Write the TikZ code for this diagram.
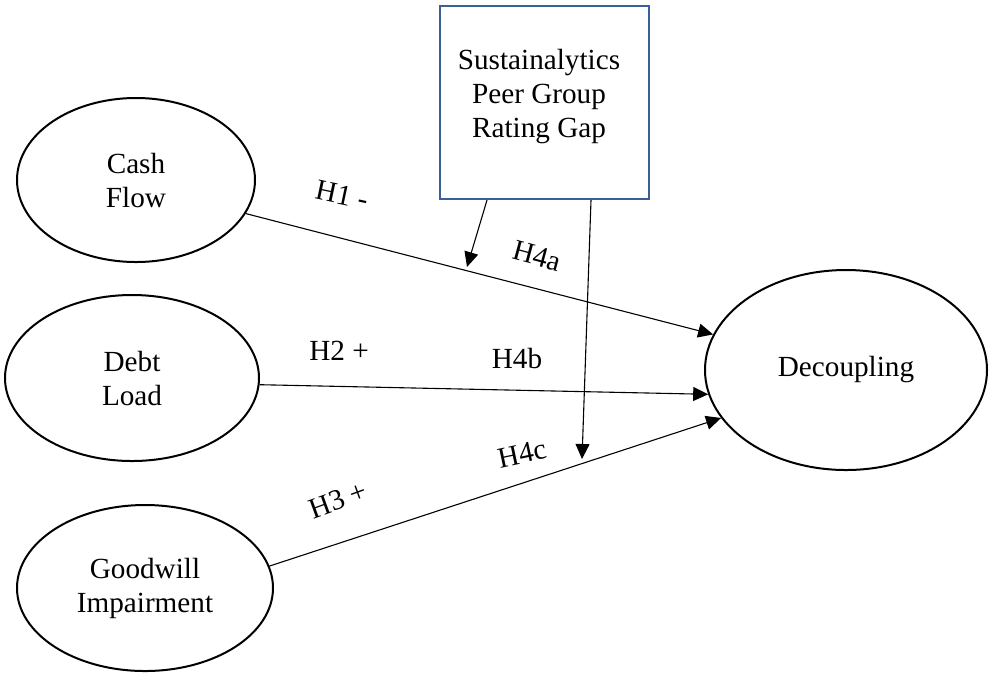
\documentclass[tikz,border=0pt]{standalone}
\usepackage{fontspec}
\setmainfont{Liberation Serif}
\usetikzlibrary{shapes.geometric,arrows.meta}
\definecolor{boxblue}{RGB}{60,94,154}
\tikzset{
  oval/.style={ellipse,draw=black,line width=1pt,inner sep=0pt,align=center,
    font=\fontsize{14.6}{17}\selectfont},
  modbox/.style={rectangle,draw=boxblue,line width=1.1pt,inner sep=0pt},
  txt/.style={inner sep=0pt,align=center,font=\fontsize{14.6}{17}\selectfont},
  lbl/.style={inner sep=0pt,font=\fontsize{14.6}{17}\selectfont},
  arr/.style={draw=black,line width=0.55pt,-{Triangle[length=7.5pt,width=7pt]}},
  ln/.style={draw=black,line width=0.55pt}
}
\begin{document}
\begin{tikzpicture}[x=0.5pt,y=-0.5pt]
\useasboundingbox (0,0) rectangle (989,677);
% ellipses
\node[oval,minimum width=119pt,minimum height=82pt] (cf) at (136,180) {Cash\\Flow};
\node[oval,minimum width=127pt,minimum height=83pt] (dl) at (132,378) {Debt\\Load};
\node[oval,minimum width=128pt,minimum height=83pt] (gw) at (145,588) {Goodwill\\Impairment};
\node[oval,minimum width=141pt,minimum height=100pt] (dec) at (846,370) {Decoupling};
% moderator box
\node[modbox,minimum width=104.5pt,minimum height=96.5pt] (mod) at (544.5,102.5) {};
\node[txt] (modtext) at (539,97) {Sustainalytics\\Peer Group\\Rating Gap};
% main paths
\draw[arr] (cf.-17.7) -- (dec.165);
\draw[arr] (dl.-3) -- (dec.190);
\draw[arr] (gw.10) -- (dec.201);
% moderator paths
\coordinate (m1s) at (487,199);
\coordinate (m2s) at (591,199);
\coordinate (m1) at (467,267);
\coordinate (m2) at (582,459);
\draw[arr] (mod.south west -| m1s) -- (m1);
\draw[arr] (mod.south west -| m2s) -- (m2);
% labels
\node[lbl,rotate=-12] (h1) at (342,195) {H1 -};
\node[lbl,rotate=-15] (h4a) at (537,256) {H4a};
\node[lbl] (h2) at (339,351) {H2 +};
\node[lbl] (h4b) at (517,358) {H4b};
\node[lbl,rotate=12] (h4c) at (522,454) {H4c};
\node[lbl,rotate=20] (h3) at (338,500) {H3 +};
\end{tikzpicture}
\end{document}
